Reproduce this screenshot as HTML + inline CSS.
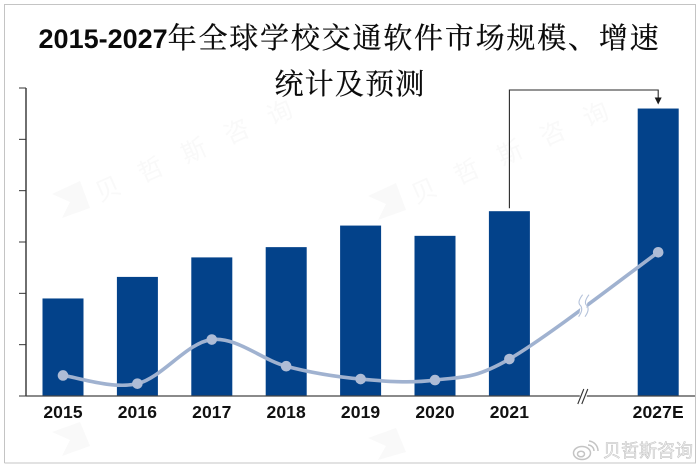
<!DOCTYPE html>
<html lang="zh">
<head>
<meta charset="utf-8">
<title>2015-2027年全球学校交通软件市场规模、增速统计及预测</title>
<style>
html,body{margin:0;padding:0;background:#fff;}
svg{display:block;}
</style>
</head>
<body>
<svg id="chart" xmlns="http://www.w3.org/2000/svg" width="700" height="469" viewBox="0 0 700 469">
  <path d="M4.5 463V4.5H695.5V463H4.5" fill="#fff" stroke="#c4c4c4" stroke-width="1"/>

  <g fill="#f9f9f9" font-family="'Liberation Sans','Noto Sans CJK SC',sans-serif" font-size="25">
    <path d="M52 194L80 181L90 208L62 218L70 202Z"/>
    <text transform="translate(100 202) rotate(-24)" letter-spacing="22">贝哲斯咨询</text>
    <path d="M368 196L396 183L406 210L378 220L386 204Z"/>
    <text transform="translate(416 204) rotate(-24)" letter-spacing="22">贝哲斯咨询</text>
    <path d="M52 432L80 422L90 446L62 456L70 440Z"/>
    <path d="M368 438L396 428L406 452L378 460L386 446Z"/>
  </g>

  <g text-anchor="middle" fill="#0a0a0a">
    <text x="349.5" y="48"><tspan font-family="'Liberation Sans',sans-serif" font-weight="700" font-size="27">2015-2027</tspan><tspan font-family="'Liberation Serif','Noto Serif CJK SC',serif" font-size="29" letter-spacing="1.8" stroke="#0a0a0a" stroke-width="0.25">年全球学校交通软件市场规模、增速</tspan></text>
    <text x="350" y="94" font-family="'Liberation Serif','Noto Serif CJK SC',serif" font-size="29" letter-spacing="1.2" stroke="#0a0a0a" stroke-width="0.25">统计及预测</text>
  </g>

  <g id="bars"></g>
  <g id="axes"></g>
  <g id="line"></g>
  <g id="connector"></g>

  <g>
    <g fill="none" stroke="#c4c4c4" stroke-width="1.5">
      <ellipse cx="582" cy="453" rx="8.5" ry="6.5"/>
      <ellipse cx="581" cy="454" rx="3.5" ry="2.8"/>
      <path d="M588 445a6 6 0 0 1 6 6M589 441a10 10 0 0 1 9 10"/>
    </g>
    <text x="603" y="457" font-family="'Liberation Sans','Noto Sans CJK SC',sans-serif" font-size="18" fill="#eeeeee" stroke="#c2c2c2" stroke-width="0.5">贝哲斯咨询</text>
  </g>
</svg>

<script>
const categories = ["2015", "2016", "2017", "2018", "2019", "2020", "2021", "", "2027E"];
const marketSize = [95, 116, 135, 145, 166, 156, 180, null, 280];
const growthRate = [2.0, 1.2, 5.5, 2.9, 1.65, 1.55, 3.6, null, 14.0];
const valueTicks = [0, 50, 100, 150, 200, 250, 300];

const NS = "http://www.w3.org/2000/svg";
const plotLeft = 26, bandStart = 25.8, bandWidth = 74.4, barWidth = 41;
const plotTop = 88, plotBottom = 396, plotRight = 695;
const valueMax = 300, growthMax = 30;

function xBand(i) { return bandStart + bandWidth * (i + 0.5); }
function yValue(v) { return plotBottom - (v / valueMax) * (plotBottom - plotTop); }
function yGrowth(v) { return plotBottom - (v / growthMax) * (plotBottom - plotTop); }
function make(tag, parent, attrs) {
  const el = document.createElementNS(NS, tag);
  for (const k in attrs) el.setAttribute(k, attrs[k]);
  parent.appendChild(el);
  return el;
}

const barsG = document.getElementById("bars");
const axesG = document.getElementById("axes");
const lineG = document.getElementById("line");
const connG = document.getElementById("connector");

/* bars */
marketSize.forEach(function (v, i) {
  if (v === null) return;
  const bar = make("rect", barsG, {
    x: xBand(i) - barWidth / 2, y: yValue(v), width: barWidth,
    height: plotBottom - yValue(v), fill: "#03428a"
  });
  
  
});

/* y axis and ticks */
const yAxis = make("line", axesG, { x1: plotLeft, x2: plotLeft, y1: plotTop, y2: plotBottom, stroke: "#222", "stroke-width": 1.3 });


valueTicks.forEach(function (t) {
  const tick = make("line", axesG, { x1: 19, x2: plotLeft, y1: yValue(t), y2: yValue(t), stroke: "#333", "stroke-width": 1 });
  
  
});

/* x axis and labels */
const xAxis = make("line", axesG, { x1: plotLeft, x2: plotRight, y1: plotBottom, y2: plotBottom, stroke: "#444", "stroke-width": 1.3 });


categories.forEach(function (c, i) {
  if (!c) return;
  const label = make("text", axesG, {
    x: xBand(i), y: 418, "text-anchor": "middle", fill: "#111",
    "font-family": "'Liberation Sans',sans-serif", "font-weight": 700,
    "font-size": 17.5, "letter-spacing": 0.1
  });
  
  
  label.textContent = c;
});

/* x axis break, in the empty category slot */
const gapIndex = categories.indexOf("");
const gapX = xBand(gapIndex);
const axisBreakBg = make("rect", axesG, { x: gapX - 4, y: plotBottom - 2, width: 7, height: 4, fill: "#fff" });


[-3, 1].forEach(function (d) {
  const mark = make("line", axesG, { x1: gapX + d - 3, y1: plotBottom + 8, x2: gapX + d + 3, y2: plotBottom - 7, stroke: "#333", "stroke-width": 1.1 });
  
  
});

/* smooth growth line */
const pts = [];
growthRate.forEach(function (v, i) {
  if (v !== null) pts.push([xBand(i), yGrowth(v)]);
});
let d = "M" + pts[0][0] + " " + pts[0][1];
for (let i = 0; i < pts.length - 1; i++) {
  const p0 = pts[Math.max(i - 1, 0)], p1 = pts[i], p2 = pts[i + 1], p3 = pts[Math.min(i + 2, pts.length - 1)];
  const c1x = p1[0] + (p2[0] - p0[0]) / 6, c1y = p1[1] + (p2[1] - p0[1]) / 6;
  const c2x = p2[0] - (p3[0] - p1[0]) / 6, c2y = p2[1] - (p3[1] - p1[1]) / 6;
  d += "C" + c1x + " " + c1y + " " + c2x + " " + c2y + " " + p2[0] + " " + p2[1];
}
const curve = make("path", lineG, { d: d, fill: "none", stroke: "#a0b2d0", "stroke-width": 3.6, "stroke-linecap": "round" });



/* line break mark, halfway along the last segment */
const last = pts[pts.length - 1], prev = pts[pts.length - 2];
const midX = (last[0] + prev[0]) / 2, midY = (last[1] + prev[1]) / 2;
const lineBreakBg = make("rect", lineG, { x: midX - 3, y: midY - 11, width: 6, height: 22, fill: "#fff", transform: "rotate(10 " + midX + " " + midY + ")" });


[-3.2, 3.2].forEach(function (o) {
  const x = midX + o;
  const mark = make("path", lineG, {
    d: "M" + (x + 2) + " " + (midY - 11) + "Q" + (x - 4) + " " + (midY - 3) + " " + x + " " + midY + "Q" + (x + 3) + " " + (midY + 4) + " " + (x - 2) + " " + (midY + 11),
    fill: "none", stroke: "#b4c2da", "stroke-width": 1.1
  });
  
  
});

/* growth points */
pts.forEach(function (p) {
  const dot = make("circle", lineG, { cx: p[0], cy: p[1], r: 5.3, fill: "#aebcd6" });
  
  
});

/* connector arrow from the 2021 bar to the 2027E bar */
const fromIdx = categories.indexOf("2021"), toIdx = categories.indexOf("2027E");
const fromX = xBand(fromIdx), toX = xBand(toIdx);
const arrowY = 90;
const conn = make("path", connG, {
  d: "M" + fromX + " " + (yValue(marketSize[fromIdx]) - 3) + "V" + arrowY + "H" + toX + "V" + (yValue(marketSize[toIdx]) - 10),
  fill: "none", stroke: "#2a2a2a", "stroke-width": 1.1
});


const tipY = yValue(marketSize[toIdx]) - 4;
const head = make("polygon", connG, {
  points: (toX - 3.5) + "," + (tipY - 7) + " " + (toX + 3.5) + "," + (tipY - 7) + " " + toX + "," + tipY,
  fill: "#1a1a1a"
});


</script>
</body>
</html>
